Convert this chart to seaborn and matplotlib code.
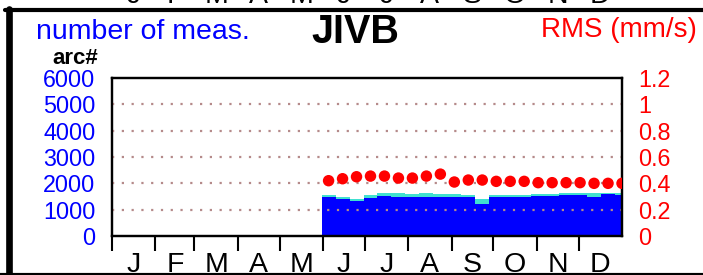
import matplotlib
matplotlib.use("Agg")
import matplotlib.pyplot as plt
import matplotlib.transforms as mtransforms
from matplotlib.lines import Line2D
import seaborn as sns

# ---------------- data ----------------
months = ["J", "F", "M", "A", "M", "J", "J", "A", "S", "O", "N", "D"]
month_starts = [0, 31, 59, 90, 120, 151, 181, 212, 243, 273, 304, 334]
bin_centers = [155, 165, 175, 185, 195, 205, 215, 225, 235, 245, 255,
               265, 275, 285, 295, 305, 315, 325, 335, 345, 355, 365]
meas_blue = [1490, 1395, 1340, 1430, 1530, 1495, 1495, 1495, 1470, 1470, 1470,
             1205, 1470, 1470, 1495, 1520, 1520, 1545, 1555, 1495, 1585, 1555]
meas_total = [1570, 1470, 1415, 1555, 1620, 1620, 1585, 1635, 1585, 1585, 1555,
              1415, 1555, 1555, 1555, 1585, 1595, 1620, 1620, 1620, 1645, 1620]
rms = [0.42, 0.435, 0.45, 0.455, 0.455, 0.44, 0.44, 0.455, 0.47, 0.41, 0.425,
       0.425, 0.415, 0.415, 0.415, 0.405, 0.405, 0.405, 0.405, 0.40, 0.40, 0.40]
left_ticks = [0, 1000, 2000, 3000, 4000, 5000, 6000]
left_labels = ["0", "1000", "2000", "3000", "4000", "5000", "6000"]
right_ticks = [0, 0.2, 0.4, 0.6, 0.8, 1.0, 1.2]
right_labels = ["0", "0.2", "0.4", "0.6", "0.8", "1", "1.2"]
grid_levels = [1000, 2000, 3000, 4000, 5000]

# ---------------- style ----------------
sns.set_style("white")
plt.rcParams["font.family"] = ["Liberation Sans", "DejaVu Sans"]

W, H = 703, 275
fig = plt.figure(figsize=(W / 100, H / 100), dpi=100)
ax = fig.add_axes([112 / W, (H - 236) / H, (622 - 112) / W, (236 - 78) / H])

edges = [c - 5 for c in bin_centers] + [bin_centers[-1] + 5]
sns.histplot(x=bin_centers, weights=meas_total, bins=edges, color="#40e0d0",
             alpha=1, linewidth=0, edgecolor="none", ax=ax)
sns.histplot(x=bin_centers, weights=meas_blue, bins=edges, color="#0000ff",
             alpha=1, linewidth=0, edgecolor="none", ax=ax)

for v in grid_levels:
    ax.axhline(v, color="#b58a8a", lw=1.6, ls=(0, (1, 3.4)), zorder=5)

ax.set_xlim(0, 365)
ax.set_ylim(0, 6000)
ax.set_xlabel("")
ax.set_ylabel("")

mids = [(month_starts[i] + (month_starts[i + 1] if i < 11 else 365)) / 2 for i in range(12)]
ax.set_xticks(month_starts)
ax.set_xticklabels([""] * 12)
ax.set_xticks(mids, minor=True)
ax.set_xticklabels(months, minor=True)
ax.tick_params(axis="x", which="major", direction="out", length=10.8, width=1.5,
               color="black", bottom=True)
ax.tick_params(axis="x", which="minor", length=0, pad=11.5, labelsize=20.5,
               labelcolor="black", bottom=True)

ax.set_yticks(left_ticks)
ax.set_yticklabels(left_labels)
ax.tick_params(axis="y", length=0, pad=12, labelsize=16.8, labelcolor="#0000ff")

ax2 = ax.twinx()
sns.scatterplot(x=bin_centers, y=rms, ax=ax2, color="#ff0000", s=68,
                edgecolor="none", linewidth=0, zorder=6)
ax2.set_ylim(0, 1.2)
ax2.set_xlim(0, 365)
ax2.set_ylabel("")
ax2.set_yticks(right_ticks)
ax2.set_yticklabels(right_labels)
ax2.tick_params(axis="y", length=0, pad=11.5, labelsize=16.8, labelcolor="#ff0000")

for a in (ax, ax2):
    for s in a.spines.values():
        s.set_color("black")
        s.set_linewidth(1.6)
        s.set_visible(True)

# ---------------- texts ----------------
fig.text(36 / W, 1 - 39.3 / H, "number of meas.", color="#0000ff", fontsize=20.5,
         ha="left", va="baseline")
fig.text(355 / W, 1 - 42.7 / H, "JIVB", color="black", fontsize=28.5,
         fontweight="bold", ha="center", va="baseline")
fig.text(697 / W, 1 - 37.3 / H, "RMS (mm/s)", color="#ff0000", fontsize=20,
         ha="right", va="baseline")
fig.text(75 / W, 1 - 64 / H, "arc#", color="black", fontsize=16,
         fontweight="bold", ha="center", va="baseline")

# month labels of the panel above (cut off at the top edge)
trans = mtransforms.blended_transform_factory(ax.transData, fig.transFigure)
for m, x in zip(months, mids):
    fig.text(x, 1 - 3 / H, m, transform=trans, fontsize=20.5, color="black",
             ha="center", va="baseline")

# panel frame lines
fig.add_artist(Line2D([5 / W, 1], [1 - 10 / H] * 2, transform=fig.transFigure,
                      color="black", lw=3))
fig.add_artist(Line2D([8.5 / W] * 2, [0, 1 - 8.5 / H], transform=fig.transFigure,
                      color="black", lw=4.8))
fig.add_artist(Line2D([0, 1], [0, 0], transform=fig.transFigure,
                      color="black", lw=3))

fig.savefig("out.png", dpi=100)
